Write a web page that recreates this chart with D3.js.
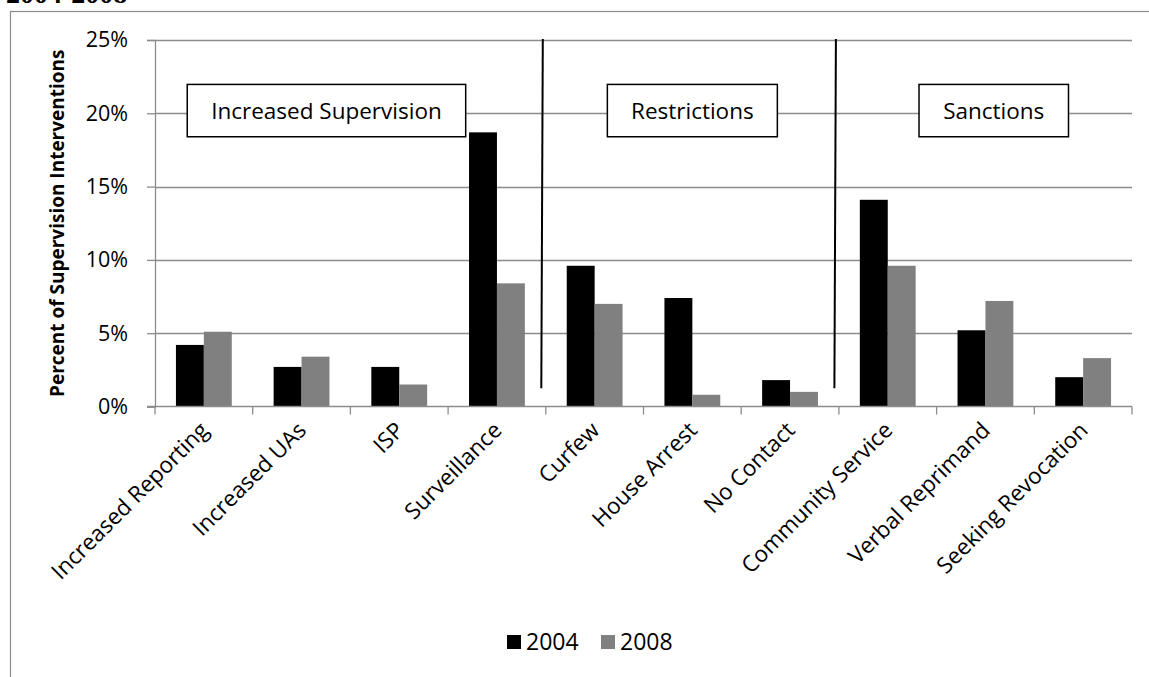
<!DOCTYPE html>
<html>
<head>
<meta charset="utf-8">
<script src="https://cdn.jsdelivr.net/npm/d3@7"></script>
<style>
  html, body { margin: 0; padding: 0; background: #fff; }
  svg { display: block; }
  text { font-family: "Open Sans", Lato, sans-serif; fill: #000; }
</style>
</head>
<body>
<svg id="chart" width="1149" height="677"></svg>
<script>
const categories = ["Increased Reporting", "Increased UAs", "ISP", "Surveillance", "Curfew",
  "House Arrest", "No Contact", "Community Service", "Verbal Reprimand", "Seeking Revocation"];
const seriesNames = ["2004", "2008"];
const values2004 = [4.2, 2.7, 2.7, 18.7, 9.6, 7.4, 1.8, 14.1, 5.2, 2.0];
const values2008 = [5.1, 3.4, 1.5, 8.4, 7.0, 0.8, 1.0, 9.6, 7.2, 3.3];
const yTicks = [0, 5, 10, 15, 20, 25];
const groupLabels = ["Increased Supervision", "Restrictions", "Sanctions"];
const groupBoxStart = [0.33, 4.63, 7.82];   // in category units
const groupBoxEnd = [3.18, 6.37, 9.35];
const dividerAfter = [4, 7];                 // divider lines before these categories
const colors = ["#000000", "#808080"];

const svg = d3.select("#chart");
const pLeft = 155, pRight = 1132, pTop = 40, pBottom = 406.5;

const x = d3.scaleBand().domain(categories).range([pLeft, pRight]).padding(0);
const bw = x.bandwidth();
const gap = bw * 1.5 / 3.5;
const x1 = d3.scaleBand().domain(seriesNames).range([gap / 2, bw - gap / 2]).padding(0);
const y = d3.scaleLinear().domain([0, 25]).range([pBottom, pTop]);
const xAt = i => pLeft + i * x.step();

// Title (cut off at top, as in the reference)
svg.append("text").attr("x", 6).attr("y", 3)
  .style("font-family", "'Liberation Serif', serif").style("font-weight", "bold")
  .style("font-size", "28px").text("2004-2008");

// Outer frame
svg.append("rect").attr("x", 10.5).attr("y", 11.5).attr("width", 1200).attr("height", 800)
  .attr("fill", "none").attr("stroke", "#8c8c8c").attr("stroke-width", 1.2);

// Gridlines
svg.append("g").selectAll("line").data(yTicks.filter(d => d > 0)).join("line")
  .attr("x1", pLeft).attr("x2", pRight)
  .attr("y1", d => Math.round(y(d)) + 0.5).attr("y2", d => Math.round(y(d)) + 0.5)
  .attr("stroke", "#8c8c8c").attr("stroke-width", 1.3);

// Bars
const data = categories.map((c, i) => ({ c, vals: [values2004[i], values2008[i]] }));
svg.append("g").selectAll("g").data(data).join("g")
  .attr("transform", d => `translate(${x(d.c)},0)`)
  .selectAll("rect").data(d => d.vals.map((v, k) => ({ k, v }))).join("rect")
  .attr("x", d => x1(seriesNames[d.k]))
  .attr("width", x1.bandwidth())
  .attr("y", d => y(d.v))
  .attr("height", d => y(0) - y(d.v))
  .attr("fill", d => colors[d.k]);

// Y axis
const yAxis = svg.append("g").attr("transform", `translate(${pLeft},0)`)
  .call(d3.axisLeft(y).tickValues(yTicks).tickFormat(d => d + "%").tickSize(8).tickPadding(19));
yAxis.select(".domain").attr("stroke", "#8c8c8c").attr("stroke-width", 1.3);
yAxis.selectAll(".tick line").attr("stroke", "#8c8c8c").attr("stroke-width", 1.3);
yAxis.selectAll(".tick text").style("font-family", "'Open Sans', sans-serif").style("font-size", "21.5px").attr("fill", "#000");

// X axis
const xAxis = svg.append("g").attr("transform", `translate(0,${pBottom})`);
xAxis.append("line").attr("x1", pLeft - 8).attr("x2", pRight).attr("y1", 0).attr("y2", 0)
  .attr("stroke", "#8c8c8c").attr("stroke-width", 1.3);
xAxis.selectAll("line.tk").data(d3.range(categories.length + 1)).join("line").attr("class", "tk")
  .attr("x1", i => xAt(i)).attr("x2", i => xAt(i)).attr("y1", 0).attr("y2", 8)
  .attr("stroke", "#8c8c8c").attr("stroke-width", 1.3);
xAxis.selectAll("text").data(categories).join("text")
  .attr("transform", d => `translate(${x(d) + bw / 2 - 5},${14}) rotate(-45)`)
  .attr("text-anchor", "end").attr("dy", "0.7em")
  .style("font-size", "22.5px").text(d => d);

// Y axis title
svg.append("text").attr("transform", `translate(64,${(pTop + pBottom) / 2}) rotate(-90)`)
  .attr("text-anchor", "middle").style("font-weight", "bold").style("font-size", "19px")
  .text("Percent of Supervision Interventions");

// Divider lines
svg.append("g").selectAll("line").data(dividerAfter).join("line")
  .attr("x1", i => xAt(i) - 3).attr("x2", i => xAt(i) - 4.5)
  .attr("y1", y(25) - 1).attr("y2", y(1.25))
  .attr("stroke", "#000").attr("stroke-width", 2);

// Group label boxes
const boxes = svg.append("g").selectAll("g").data(groupLabels).join("g");
boxes.append("rect")
  .attr("x", (d, i) => xAt(groupBoxStart[i]))
  .attr("width", (d, i) => xAt(groupBoxEnd[i]) - xAt(groupBoxStart[i]))
  .attr("y", y(21.97)).attr("height", y(18.4) - y(21.97))
  .attr("fill", "#fff").attr("stroke", "#000").attr("stroke-width", 1.5);
boxes.append("text")
  .attr("x", (d, i) => (xAt(groupBoxStart[i]) + xAt(groupBoxEnd[i])) / 2)
  .attr("y", (y(21.97) + y(18.4)) / 2).attr("dy", "0.36em")
  .attr("text-anchor", "middle").style("font-size", "22.5px").text(d => d);

// Legend
const legend = svg.append("g").attr("transform", "translate(507,635)");
const li = legend.selectAll("g").data(seriesNames).join("g")
  .attr("transform", (d, i) => `translate(${i * 94},0)`);
li.append("rect").attr("width", 14).attr("height", 14).attr("fill", (d, i) => colors[i]);
li.append("text").attr("x", 19).attr("y", 7).attr("dy", "0.36em").style("font-size", "23px").text(d => d);
</script>
</body>
</html>
